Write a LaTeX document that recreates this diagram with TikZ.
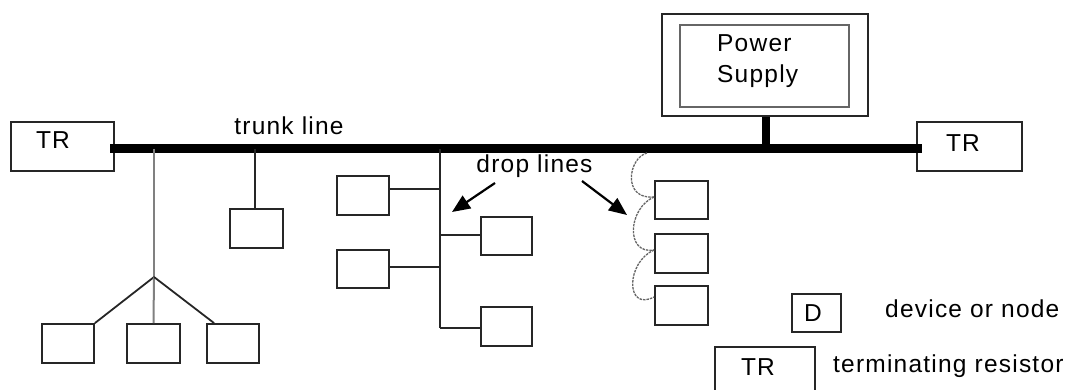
\documentclass[tikz,border=0pt]{standalone}
\usepackage{fontspec}
\setmainfont{Liberation Sans}[LetterSpace=5]
\usetikzlibrary{arrows.meta}
\begin{document}
\begin{tikzpicture}[x=1pt,y=-1pt,
  box/.style={draw=black!85,line width=1.8pt,rectangle,inner sep=0pt,minimum width=52pt,minimum height=39pt},
  txt/.style={inner sep=0pt,font=\fontsize{24.5}{28}\selectfont},
  wire/.style={draw=black!85,line width=1.8pt},
  grwire/.style={draw=black!50,line width=2pt},
  trunk/.style={draw=black,line width=9pt},
  chain/.style={draw=black!60,line width=1.3pt,dash pattern=on 2.5pt off 1pt},
  pointer/.style={draw=black,line width=2.2pt,-{Triangle[length=18pt,width=15pt]}}]
\useasboundingbox (0,0) rectangle (1072,390);
\clip (0,0) rectangle (1072,390);

% terminating resistors
\node[box,minimum width=103pt,minimum height=49pt] (trL) at (62.5,146.5) {};
\node[txt,anchor=base] (trLt) at (53,149) {TR};
\node[box,minimum width=105pt,minimum height=49pt] (trR) at (969.5,146.5) {};
\node[txt,anchor=base] (trRt) at (963,152) {TR};

% power supply
\node[box,minimum width=206pt,minimum height=102pt] (psO) at (765,65) {};
\node[box,draw=black!60,line width=1.6pt,minimum width=169pt,minimum height=82pt] (psI) at (764.5,66) {};
\node[txt,anchor=base west] (psT1) at (717,52) {Power};
\node[txt,anchor=base west] (psT2) at (717,83) {Supply};

% trunk line
\coordinate (tL) at (110,149);
\coordinate (tR) at (922,149);
\draw[trunk] (tL) -- (tR);
\coordinate (ps) at (766,149);
\draw[draw=black,line width=8pt] (psO.south -| ps) -- (ps);
\node[txt,anchor=base] (trunklbl) at (289,135) {trunk line};

% drop 1: star of three devices
\coordinate (j1) at (154,149);
\coordinate (b1) at (154,277);
\node[box] (d1) at (68,343.5) {};
\node[box,minimum width=53pt] (d2) at (153.5,343.5) {};
\node[box] (d3) at (233,343.5) {};
\draw[grwire] (j1) -- (b1);
\draw[wire] (b1) -- (d1.north east);
\draw[grwire] (b1) -- (d2.north);
\draw[wire] (b1) -- ([xshift=8pt]d3.north west);

% drop 2
\coordinate (j2) at (255,149);
\node[box,minimum width=53pt] (d4) at (256.5,228.5) {};
\draw[wire] (j2) -- (j2 |- d4.north);

% drop 3: branched line
\coordinate (j3) at (440,149);
\coordinate (e3) at (440,328);
\node[box] (d5) at (363,195.5) {};
\node[box,minimum height=38pt] (d6) at (363,269) {};
\node[box,minimum width=51pt,minimum height=38pt] (d7) at (506.5,236) {};
\node[box,minimum width=51pt] (d8) at (506.5,326.5) {};
\draw[wire] (j3) -- (e3);
\coordinate (c5) at (440,189);
\coordinate (c6) at (440,267);
\coordinate (c7) at (440,235);
\draw[wire] (c5) -- (c5 -| d5.east);
\draw[wire] (c6) -- (c6 -| d6.east);
\draw[wire] (c7) -- (c7 -| d7.west);
\draw[wire] (e3) -- (e3 -| d8.west);

% daisy chain
\coordinate (j4) at (647,153);
\node[box,minimum width=53pt,minimum height=38pt] (r1) at (681.5,200) {};
\node[box,minimum width=53pt] (r2) at (681.5,253.5) {};
\node[box,minimum width=53pt] (r3) at (681.5,305.5) {};
\draw[chain] (j4) .. controls (628,158) and (622,200) .. ([yshift=3pt]r1.west);
\draw[chain] ([yshift=3pt]r1.west) .. controls (628,208) and (625,255) .. ([yshift=3.5pt]r2.west);
\draw[chain] ([yshift=3.5pt]r2.west) .. controls (626,262) and (625,312) .. ([yshift=8.5pt]r3.west);

% drop lines label and arrows
\node[txt,anchor=base] (droplbl) at (534.5,173) {drop lines};
\coordinate (a1s) at (495,183);
\coordinate (a1e) at (452,212);
\coordinate (a2s) at (582,181);
\coordinate (a2e) at (627,215);
\draw[pointer] (a1s) -- (a1e);
\draw[pointer] (a2s) -- (a2e);

% legend
\node[box,minimum width=49pt,minimum height=38pt] (legD) at (816.5,313) {};
\node[txt,anchor=base] (legDt) at (813,322) {D};
\node[txt,anchor=base west] (legDl) at (885,318) {device or node};
\node[box,minimum width=100pt,minimum height=53pt] (legTR) at (765,373.5) {};
\node[txt,anchor=base] (legTRt) at (758,375) {TR};
\node[txt,anchor=base west] (legTRl) at (833,372) {terminating resistor};
\end{tikzpicture}
\end{document}
